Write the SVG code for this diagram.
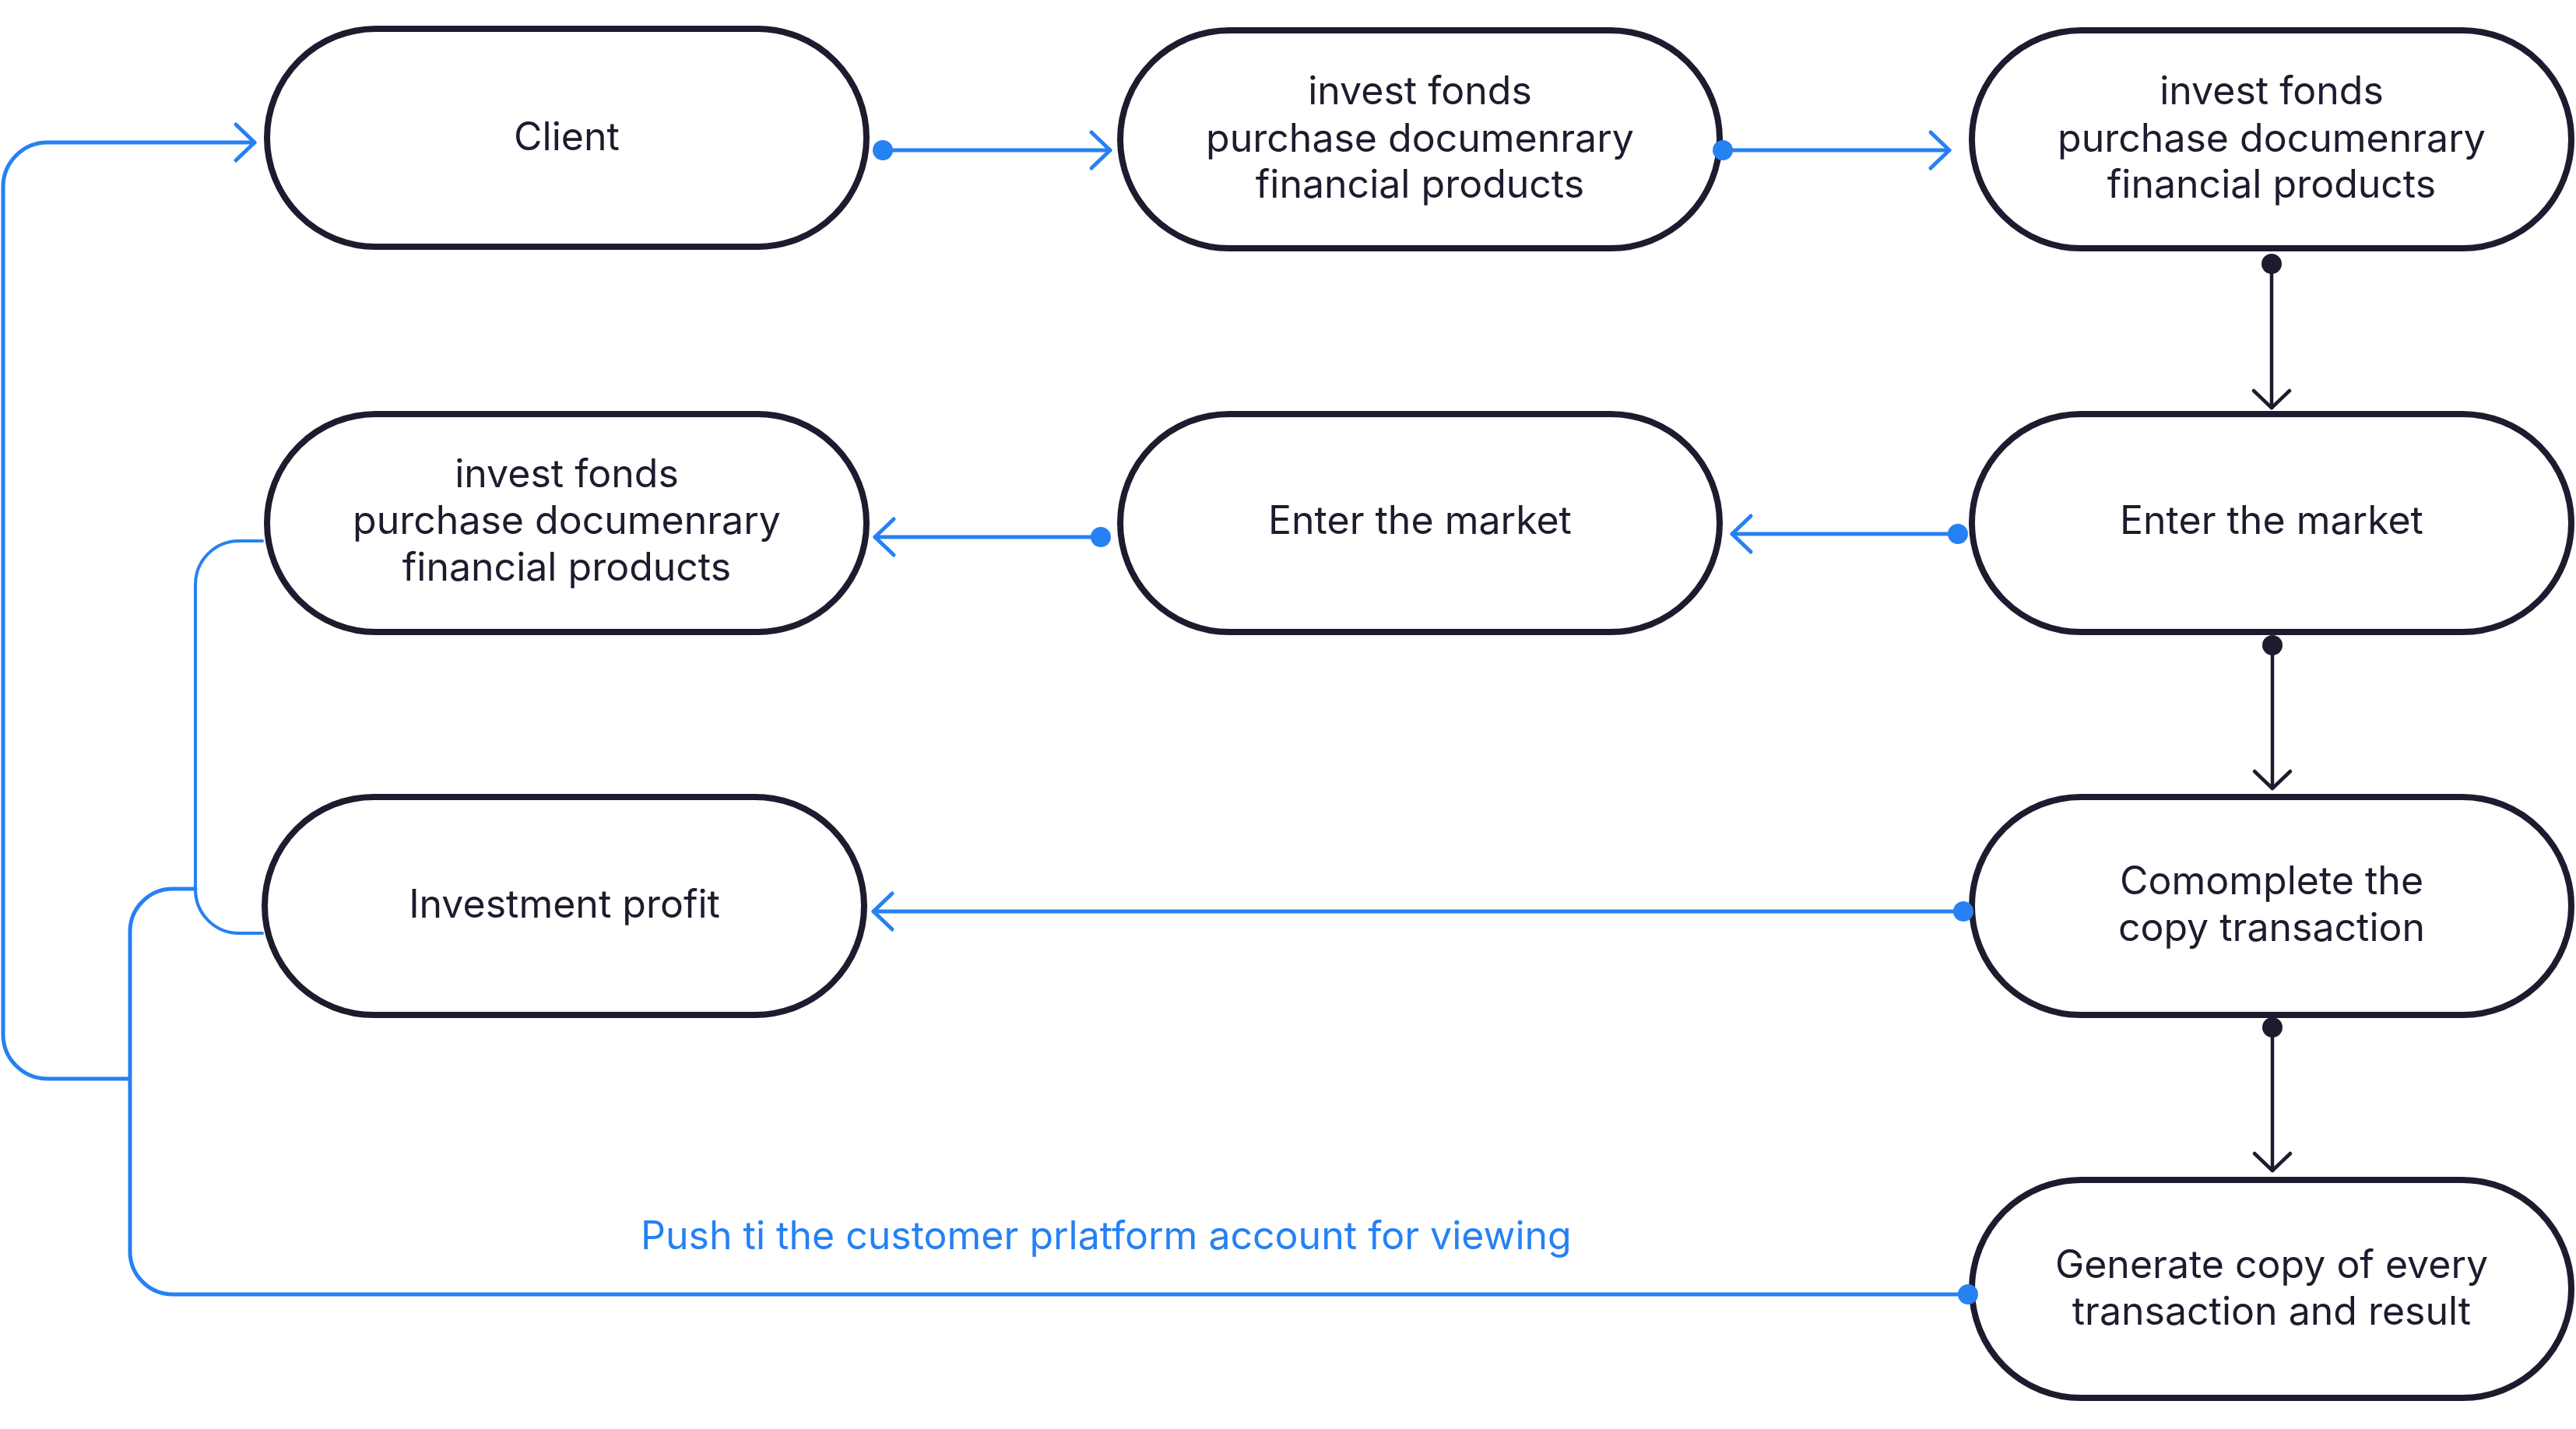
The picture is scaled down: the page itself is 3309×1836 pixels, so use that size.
<svg xmlns="http://www.w3.org/2000/svg" width="3309" height="1836" viewBox="0 0 3309 1836">
<style>
.node rect{fill:#ffffff;stroke:#1f1b2e;stroke-width:8}
.node text{font-family:Inter,"Noto Sans","Liberation Sans",sans-serif;font-size:50px;fill:#1f1b2e;text-anchor:middle}
.blue{fill:none;stroke:#2681f2;stroke-width:5;stroke-linecap:round;stroke-linejoin:round}
.thin{stroke-width:4}
.dark{fill:none;stroke:#1f1b2e;stroke-width:4.5;stroke-linecap:round}
.label{font-family:Inter,"Noto Sans","Liberation Sans",sans-serif;font-size:50px;fill:#2681f2}
</style>
<defs>
<marker id="ab" markerUnits="userSpaceOnUse" viewBox="-30 -30 40 60" markerWidth="40" markerHeight="60" refX="0" refY="0" orient="auto" overflow="visible">
<path d="M-24,-23 L0,0 L-24,23" fill="none" stroke="#2681f2" stroke-width="5" stroke-linecap="round" stroke-linejoin="round"/>
</marker>
<marker id="ad" markerUnits="userSpaceOnUse" viewBox="-30 -30 40 60" markerWidth="40" markerHeight="60" refX="0" refY="0" orient="auto" overflow="visible">
<path d="M-22,-23 L0,0 L-22,23" fill="none" stroke="#1f1b2e" stroke-width="4.5" stroke-linecap="round" stroke-linejoin="round"/>
</marker>
<marker id="db" markerUnits="userSpaceOnUse" viewBox="-15 -15 30 30" markerWidth="30" markerHeight="30" refX="0" refY="0" overflow="visible">
<circle cx="0" cy="0" r="13" fill="#2681f2"/>
</marker>
<marker id="dd" markerUnits="userSpaceOnUse" viewBox="-15 -15 30 30" markerWidth="30" markerHeight="30" refX="0" refY="0" overflow="visible">
<circle cx="0" cy="0" r="13" fill="#1f1b2e"/>
</marker>
</defs>
<g id="client" class="node">
<rect x="343" y="37" width="770" height="280" rx="140" ry="140"/>
<text x="728" y="193">Client</text>
</g>
<g id="invest1" class="node">
<rect x="1439" y="39" width="770" height="280" rx="140" ry="140"/>
<text x="1824" y="134">invest fonds</text>
<text x="1824" y="195">purchase documenrary</text>
<text x="1824" y="254">financial products</text>
</g>
<g id="invest2" class="node">
<rect x="2533" y="39" width="770" height="280" rx="140" ry="140"/>
<text x="2918" y="134">invest fonds</text>
<text x="2918" y="195">purchase documenrary</text>
<text x="2918" y="254">financial products</text>
</g>
<g id="invest3" class="node">
<rect x="343" y="532" width="770" height="280" rx="140" ry="140"/>
<text x="728" y="626">invest fonds</text>
<text x="728" y="686">purchase documenrary</text>
<text x="728" y="746">financial products</text>
</g>
<g id="market1" class="node">
<rect x="1439" y="532" width="770" height="280" rx="140" ry="140"/>
<text x="1824" y="686">Enter the market</text>
</g>
<g id="market2" class="node">
<rect x="2533" y="532" width="770" height="280" rx="140" ry="140"/>
<text x="2918" y="686">Enter the market</text>
</g>
<g id="profit" class="node">
<rect x="340" y="1024" width="770" height="280" rx="140" ry="140"/>
<text x="725" y="1179">Investment profit</text>
</g>
<g id="complete" class="node">
<rect x="2533" y="1024" width="770" height="280" rx="140" ry="140"/>
<text x="2918" y="1149">Comomplete the</text>
<text x="2918" y="1209">copy transaction</text>
</g>
<g id="generate" class="node">
<rect x="2533" y="1516" width="770" height="280" rx="140" ry="140"/>
<text x="2918" y="1642">Generate copy of every</text>
<text x="2918" y="1702">transaction and result</text>
</g>
<g id="connectors">
<path class="blue" d="M1134 193 H1426" marker-start="url(#db)" marker-end="url(#ab)"/>
<path class="blue" d="M2213 193 H2504" marker-start="url(#db)" marker-end="url(#ab)"/>
<path class="dark" d="M2918 339 V524" marker-start="url(#dd)" marker-end="url(#ad)"/>
<path class="blue" d="M2515 686 H2225" marker-start="url(#db)" marker-end="url(#ab)"/>
<path class="blue" d="M1414 690 H1124" marker-start="url(#db)" marker-end="url(#ab)"/>
<path class="dark" d="M2919 829 V1013" marker-start="url(#dd)" marker-end="url(#ad)"/>
<path class="blue" d="M2522 1171 H1122" marker-start="url(#db)" marker-end="url(#ab)"/>
<path class="dark" d="M2919 1320 V1504" marker-start="url(#dd)" marker-end="url(#ad)"/>
<path class="blue" d="M2528 1663 H222 A55 55 0 0 1 167 1608 V1197 A55 55 0 0 1 222 1142 H251" marker-start="url(#db)"/>
<path class="blue thin" d="M337 695 H307 A56 56 0 0 0 251 751 V1143 A56 56 0 0 0 307 1199 H337"/>
<path class="blue" d="M165 1386 H61 A57 57 0 0 1 4 1329 V240 A57 57 0 0 1 61 183 H327" marker-end="url(#ab)"/>
<text class="label" x="823" y="1605">Push ti the customer prlatform account for viewing</text>
</g>
</svg>
